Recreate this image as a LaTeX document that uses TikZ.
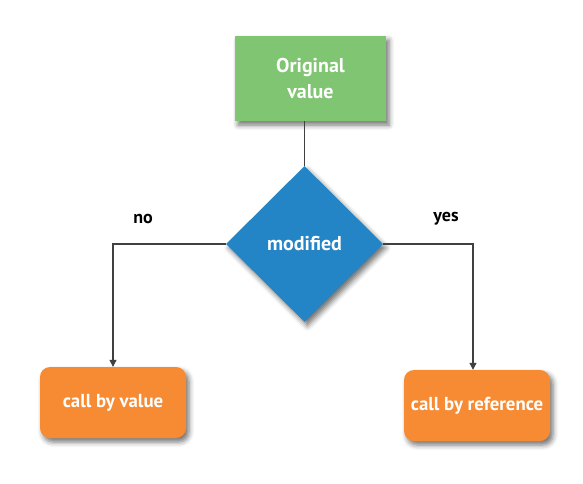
\documentclass[tikz,border=0pt]{standalone}
\usepackage{fontspec}
\setmainfont{PT Sans}
\usetikzlibrary{shapes.geometric,arrows.meta,shadows.blur}
\definecolor{boxgreen}{HTML}{80C572}
\definecolor{diablue}{HTML}{2385C6}
\definecolor{boxorange}{HTML}{F68B33}
\definecolor{linegray}{HTML}{404040}
\begin{document}
\begin{tikzpicture}[x=1pt,y=-1pt,
  shad/.style={blur shadow={shadow xshift=3pt,shadow yshift=-4pt,shadow blur radius=5pt,shadow opacity=55}},
  greenbox/.style={fill=boxgreen,minimum width=151pt,minimum height=85pt,inner sep=0pt,align=center,text=white,font=\fontsize{20}{26}\selectfont\bfseries,shad},
  dia/.style={diamond,fill=diablue,minimum width=157pt,minimum height=156pt,inner sep=0pt,text=white,font=\fontsize{20}{24}\selectfont\bfseries,shad},
  orangebox/.style={fill=boxorange,rounded corners=10pt,minimum width=146pt,minimum height=71pt,inner sep=0pt,text=white,font=\fontsize{18.8}{22}\selectfont\bfseries,shad},
  lbl/.style={font=\fontsize{18}{20}\selectfont\bfseries,text=black},
  conn/.style={draw=linegray,line width=1.1pt},
  arr/.style={conn,-{Triangle[length=7pt,width=7pt]}}]
\useasboundingbox (0,0) rectangle (583,483);
\node[greenbox] (orig) at (310.5,78.5) {Original\\value};
\node[dia] (mod) at (304.5,244) {modified};
\node[orangebox] (cbv) at (113,402.5) {call by value};
\node[orangebox] (cbr) at (477,405.5) {call by reference};
\node[lbl] (no) at (143,219) {no};
\node[lbl] (yes) at (446,219) {yes};
\draw[conn] (mod.north) -- (mod.north |- orig.south);
\draw[arr] (mod.west) -| (cbv.north);
\coordinate (cbrin) at ([xshift=-4pt]cbr.north);
\draw[arr] (mod.east) -| (cbrin);
\end{tikzpicture}
\end{document}
